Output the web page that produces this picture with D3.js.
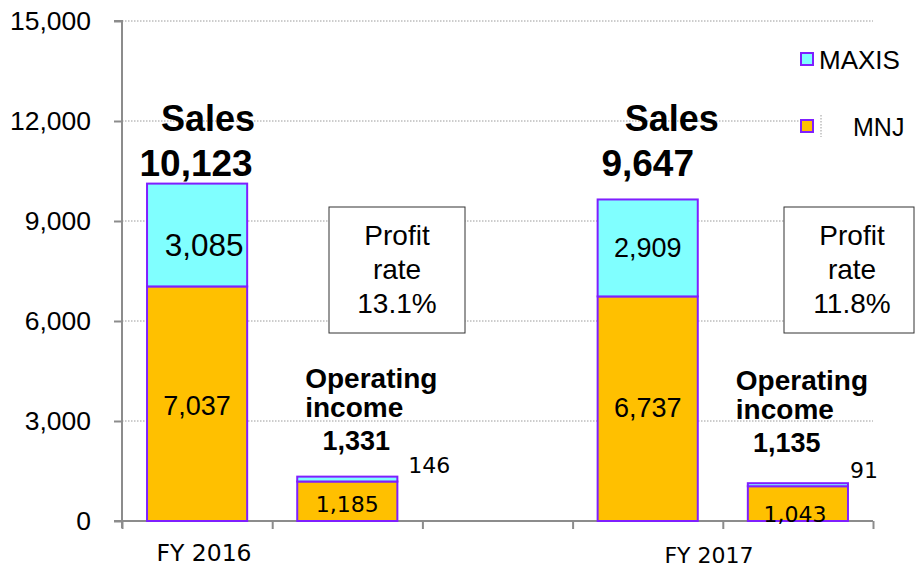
<!DOCTYPE html>
<html>
<head>
<meta charset="utf-8">
<script src="https://cdn.jsdelivr.net/npm/d3@7"></script>
<style>
  body { margin: 0; background: #fff; }
  text { font-family: 'Liberation Sans', Arial, sans-serif; fill: #000; }
  .verdana { font-family: 'DejaVu Sans', Verdana, sans-serif; }
</style>
</head>
<body>
<div class="container"></div>
<script>
// slots on the x axis (third slot is an empty gap)
const slots = ['s2016', 'oi2016', 'gap', 's2017', 'oi2017'];
const barSlots = ['s2016', 'oi2016', 's2017', 'oi2017'];
const mnjValues = [7037, 1185, 6737, 1043];
const maxisValues = [3085, 146, 2909, 91];
const yTicks = [0, 3000, 6000, 9000, 12000, 15000];
const fiscalYears = ['FY 2016', 'FY 2017'];
const salesTotals = ['10,123', '9,647'];
const incomeTotals = ['1,331', '1,135'];
const profitRates = ['13.1%', '11.8%'];
const seriesNames = ['MAXIS', 'MNJ'];

const width = 915;
const height = 569;
const plotLeft = 122;
const plotRight = 873;
const plotTop = 21;
const plotBottom = 521;

const colors = {
  MNJ: '#ffc000',
  MAXIS: '#80ffff',
  stroke: '#7f1fff',
  axis: '#8c8c8c',
  grid: '#9a9a9a',
};

const svg = d3
  .select('.container')
  .append('svg')
  .attr('width', width)
  .attr('height', height);

const xScale = d3
  .scaleBand()
  .domain(slots)
  .range([plotLeft, plotRight])
  .paddingInner(1 / 3)
  .paddingOuter(1 / 6);

const tickScale = d3.scaleLinear().domain([0, slots.length]).range([plotLeft, plotRight]);

const yScale = d3.scaleLinear().domain([0, 15000]).range([plotBottom, plotTop]);

// grid lines
svg
  .append('g')
  .selectAll('line')
  .data(yTicks.slice(1))
  .enter()
  .append('line')
  .attr('x1', plotLeft)
  .attr('x2', plotRight)
  .attr('y1', (d) => yScale(d))
  .attr('y2', (d) => yScale(d))
  .attr('stroke', colors.grid)
  .attr('stroke-width', 1)
  .attr('stroke-dasharray', '1.5,1.5');

// y axis
const yAxis = d3
  .axisLeft(yScale)
  .tickValues(yTicks)
  .tickFormat(d3.format(','))
  .tickSize(8)
  .tickPadding(23);

const yG = svg
  .append('g')
  .attr('transform', `translate(${plotLeft},0)`)
  .call(yAxis);
yG.select('.domain').attr('d', `M-8,${plotTop}H0V${plotBottom + 7}`);
yG.selectAll('path, line').attr('stroke', colors.axis).attr('stroke-width', 2);
yG.selectAll('text')
  .attr('font-size', 26.5)
  .attr('font-family', "'Liberation Sans', Arial, sans-serif");

// x axis (ticks between slots only)
const xAxis = d3
  .axisBottom(tickScale)
  .tickValues(d3.range(slots.length + 1))
  .tickFormat('')
  .tickSize(8)
  .tickSizeOuter(0);

const xG = svg
  .append('g')
  .attr('transform', `translate(0,${plotBottom})`)
  .call(xAxis);
xG.select('.domain').attr('d', `M${plotLeft - 8},0H${plotRight}`);
xG.selectAll('path, line').attr('stroke', colors.axis).attr('stroke-width', 2);

// stacked bars
const stackData = barSlots.map((slot, i) => ({
  slot,
  MNJ: mnjValues[i],
  MAXIS: maxisValues[i],
}));
const stacked = d3.stack().keys(['MNJ', 'MAXIS'])(stackData);

svg
  .append('g')
  .selectAll('g')
  .data(stacked)
  .enter()
  .append('g')
  .attr('fill', (d) => colors[d.key])
  .selectAll('rect')
  .data((d) => d)
  .enter()
  .append('rect')
  .attr('x', (d) => xScale(d.data.slot))
  .attr('y', (d) => yScale(d[1]))
  .attr('width', xScale.bandwidth())
  .attr('height', (d) => yScale(d[0]) - yScale(d[1]))
  .attr('stroke', colors.stroke)
  .attr('stroke-width', 2);

const bx = (slot) => xScale(slot) + xScale.bandwidth() / 2;

// segment value labels
const segLabels = [
  { text: '3,085', x: bx('s2016') + 7, y: 256, size: 31.5, cls: '' },
  { text: '7,037', x: bx('s2016'), y: 415, size: 27, cls: '' },
  { text: '2,909', x: bx('s2017'), y: 257, size: 27, cls: '' },
  { text: '6,737', x: bx('s2017'), y: 417, size: 27, cls: '' },
  { text: '1,185', x: bx('oi2016'), y: 512, size: 22, cls: 'verdana' },
  { text: '146', x: bx('oi2016') + 82, y: 473, size: 22, cls: 'verdana' },
  { text: '1,043', x: bx('oi2017') - 3, y: 522, size: 22, cls: 'verdana' },
  { text: '91', x: bx('oi2017') + 66, y: 478, size: 22, cls: 'verdana' },
];
svg
  .append('g')
  .selectAll('text')
  .data(segLabels)
  .enter()
  .append('text')
  .attr('class', (d) => d.cls)
  .attr('x', (d) => d.x)
  .attr('y', (d) => d.y)
  .attr('text-anchor', 'middle')
  .attr('font-size', (d) => d.size)
  .text((d) => d.text);

// "Sales" headings
const salesSlots = ['s2016', 's2017'];
salesSlots.forEach((slot, i) => {
  const cx = bx(slot);
  svg
    .append('text')
    .attr('x', cx + (i === 0 ? 11 : 24))
    .attr('y', 131)
    .attr('text-anchor', 'middle')
    .attr('font-size', 36)
    .attr('font-weight', 'bold')
    .text('Sales');
  svg
    .append('text')
    .attr('x', cx - (i === 0 ? 1 : 0))
    .attr('y', 176)
    .attr('text-anchor', 'middle')
    .attr('font-size', 37)
    .attr('font-weight', 'bold')
    .text(salesTotals[i]);
});

// operating income headings (left aligned text boxes)
const oiSlots = ['oi2016', 'oi2017'];
const oiBase = [388, 390];
const oiShift = [8, -12];
oiSlots.forEach((slot, i) => {
  const lx = xScale(slot) + oiShift[i];
  const g = svg.append('g').attr('font-weight', 'bold');
  g.append('text').attr('x', lx).attr('y', oiBase[i]).attr('font-size', 28).text('Operating');
  g.append('text').attr('x', lx).attr('y', oiBase[i] + 29).attr('font-size', 28).text('income');
  g.append('text')
    .attr('x', lx + 51)
    .attr('y', oiBase[i] + 62)
    .attr('text-anchor', 'middle')
    .attr('font-size', 27)
    .text(incomeTotals[i]);
});

// profit rate boxes
const boxX = [329, 784];
const boxW = [136, 130];
profitRates.forEach((rate, i) => {
  const g = svg.append('g');
  g.append('rect')
    .attr('x', boxX[i])
    .attr('y', 207)
    .attr('width', boxW[i])
    .attr('height', 126)
    .attr('fill', '#fff')
    .attr('stroke', '#333')
    .attr('stroke-width', 1);
  const cx = boxX[i] + 68;
  ['Profit', 'rate', rate].forEach((line, j) => {
    g.append('text')
      .attr('x', cx)
      .attr('y', 245 + j * 34)
      .attr('text-anchor', 'middle')
      .attr('font-size', 28)
      .text(line);
  });
});

// fiscal year labels
svg
  .append('g')
  .selectAll('text')
  .data(fiscalYears)
  .enter()
  .append('text')
  .attr('class', 'verdana')
  .attr('x', (d, i) => [204, 709][i])
  .attr('y', (d, i) => [561, 563][i])
  .attr('text-anchor', 'middle')
  .attr('font-size', (d, i) => [23.5, 22][i])
  .text((d) => d);

// legend
const legend = svg.append('g');
legend
  .append('rect')
  .attr('x', 799)
  .attr('y', 40)
  .attr('width', 116)
  .attr('height', 105)
  .attr('fill', '#fff');
legend
  .append('line')
  .attr('x1', 821)
  .attr('x2', 821)
  .attr('y1', 115)
  .attr('y2', 137)
  .attr('stroke', colors.grid)
  .attr('stroke-dasharray', '1.5,1.5');
const legendY = [53, 120];
const legendTextX = [819, 853];
seriesNames.forEach((name, i) => {
  legend
    .append('rect')
    .attr('x', 801)
    .attr('y', legendY[i])
    .attr('width', 12)
    .attr('height', 12)
    .attr('fill', colors[name])
    .attr('stroke', colors.stroke)
    .attr('stroke-width', 2);
  legend
    .append('text')
    .attr('x', legendTextX[i])
    .attr('y', legendY[i] + 16)
    .attr('font-size', [26, 25][i])
    .text(name);
});
</script>
</body>
</html>
